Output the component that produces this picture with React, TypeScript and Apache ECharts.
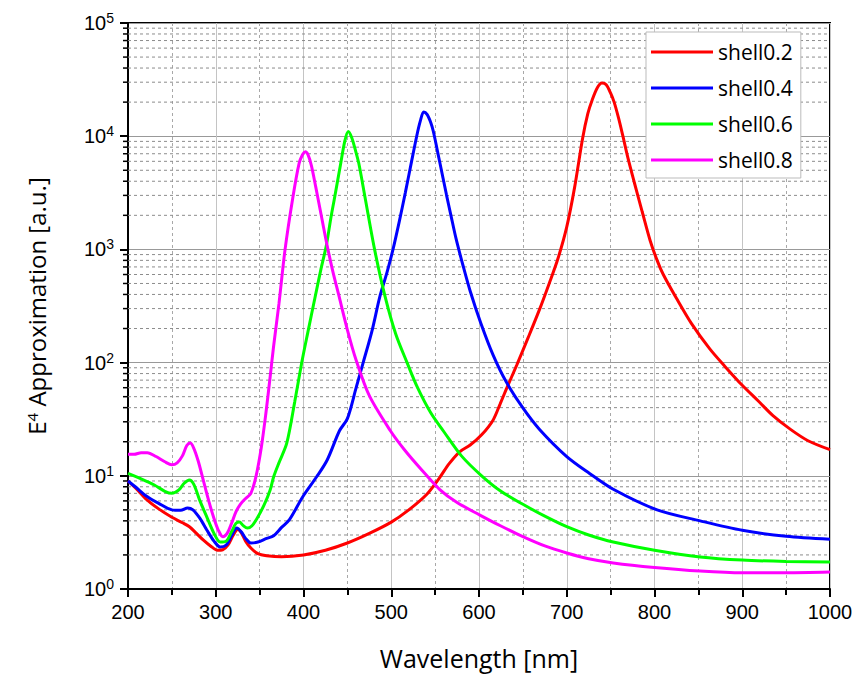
import React, { useEffect, useRef } from "react";
import * as echarts from "echarts";

const seriesNames = ["shell0.2", "shell0.4", "shell0.6", "shell0.8"];
const seriesColors = ["#ff0000", "#0000ff", "#00ff00", "#ff00ff"];

const redX = [200, 210, 220, 235, 250, 262, 270, 278, 286, 294, 302, 308, 314, 320, 325, 329, 334, 340, 348, 358, 375, 400, 425, 450, 475, 500, 520, 540, 555, 566, 578, 590, 603, 616, 624, 631, 643, 656, 669, 680, 690, 700, 709, 718, 724, 729, 735, 740, 745, 750, 754, 759, 764, 770, 777, 786, 795, 803, 810, 825, 842, 863, 880, 900, 918, 935, 955, 975, 1000];
const redY = [9.0, 7.6, 6.3, 5.1, 4.3, 3.85, 3.55, 3.1, 2.7, 2.4, 2.2, 2.22, 2.45, 3.0, 3.35, 3.15, 2.65, 2.3, 2.05, 1.97, 1.93, 2.0, 2.2, 2.55, 3.1, 3.9, 5.0, 6.8, 9.6, 12.8, 16.3, 18.7, 23, 31, 43, 58, 95, 166, 295, 500, 830, 1580, 3550, 9500, 15800, 20900, 26900, 29500, 28500, 24000, 20000, 14500, 10000, 6300, 3900, 2150, 1200, 800, 600, 370, 222, 132, 93, 63, 46, 34, 25.7, 20.4, 17];

const blueX = [200, 210, 220, 235, 250, 260, 268, 274, 282, 290, 298, 305, 312, 318, 324, 329, 334, 340, 348, 358, 366, 375, 384, 399, 415, 427, 441, 450, 460, 468, 478, 487, 495, 502, 509, 516, 523, 529, 533, 537, 541, 545, 548, 555, 563, 568, 574, 582, 590, 602, 616, 631, 650, 669, 700, 726, 753, 803, 852, 900, 950, 1000];
const blueY = [9.0, 7.8, 6.7, 5.7, 5.0, 4.95, 5.2, 5.0, 4.2, 3.3, 2.65, 2.35, 2.45, 2.95, 3.45, 3.2, 2.8, 2.55, 2.6, 2.8, 2.95, 3.5, 4.1, 6.5, 9.8, 13.8, 25, 32, 60, 100, 190, 382, 620, 1000, 1740, 3160, 5900, 10000, 13500, 16400, 15500, 13200, 11000, 6030, 3020, 2000, 1230, 710, 427, 224, 117, 67.6, 39.8, 25.7, 14.8, 10.5, 7.6, 5.0, 4.0, 3.3, 2.92, 2.75];

const greenX = [200, 215, 230, 242, 250, 258, 264, 270, 275, 282, 290, 298, 305, 312, 318, 323, 327, 331, 336, 341, 347, 355, 362, 366, 372, 381, 390, 398, 405, 413, 420, 426, 431, 435, 442, 447, 451, 455, 459, 463, 470, 481, 493, 505, 518, 530, 545, 560, 580, 603, 625, 650, 675, 700, 725, 753, 800, 852, 900, 950, 1000];
const greenY = [10.5, 9.4, 8.3, 7.3, 7.0, 7.5, 8.6, 9.2, 8.4, 6.0, 4.3, 3.1, 2.6, 2.65, 3.2, 3.8, 3.9, 3.65, 3.45, 3.6, 4.2, 5.5, 7.5, 9.8, 13, 19.5, 45, 100, 186, 372, 676, 1080, 1860, 2750, 5500, 9000, 11000, 9700, 7600, 5760, 2920, 1000, 382, 180, 100, 60, 36, 24.5, 15, 10.0, 7.3, 5.6, 4.4, 3.55, 3.0, 2.6, 2.2, 1.92, 1.8, 1.75, 1.73];

const magentaX = [200, 207, 215, 222, 232, 242, 250, 256, 262, 267, 271, 275, 280, 286, 292, 298, 303, 308, 313, 318, 323, 328, 334, 340, 346, 352, 357, 362, 366, 372, 379, 388, 395, 399, 402, 405, 409, 414, 419, 426, 433, 440, 450, 460, 475, 499, 515, 535, 555, 575, 601, 625, 650, 675, 700, 725, 753, 800, 852, 900, 950, 1000];
const magentaY = [15.5, 15.5, 16.0, 16.0, 14.8, 13.3, 12.5, 13.0, 15.0, 18.5, 19.5, 17.5, 13.5, 9.0, 6.0, 4.2, 3.3, 2.9, 3.1, 3.8, 4.8, 5.6, 6.3, 7.0, 10, 18, 35, 75, 141, 330, 1000, 2920, 5760, 6900, 7300, 6900, 5500, 3550, 2240, 1175, 660, 400, 195, 105, 51, 25, 17, 11.2, 7.6, 5.8, 4.5, 3.6, 2.9, 2.4, 2.08, 1.85, 1.7, 1.55, 1.44, 1.39, 1.39, 1.41];

const yMinorTicks = [1, 10, 100, 1000, 10000].flatMap((d) => [2, 3, 4, 5, 6, 7, 8, 9].map((k) => k * d));

const allX = [redX, blueX, greenX, magentaX];
const allY = [redY, blueY, greenY, magentaY];

export default function App() {
  const ref = useRef<HTMLDivElement>(null);
  useEffect(() => {
    if (!ref.current) return;
    const chart = echarts.init(ref.current, undefined, { renderer: "svg" });
    const lineSeries = seriesNames.map((name, i) => ({
      name,
      type: "line",
      data: allX[i].map((x, j) => [x, allY[i][j]]),
      symbol: "none",
      smooth: 0.3,
      z: 3,
      lineStyle: { color: seriesColors[i], width: 3 },
      itemStyle: { color: seriesColors[i] },
    }));
    const option: any = {
      animation: false,
      grid: {
        left: 128,
        right: 29,
        top: 23,
        bottom: 93,
        show: true,
        borderColor: "#000",
        borderWidth: 2,
      },
      legend: {
        data: seriesNames,
        orient: "vertical",
        left: 646,
        top: 32,
        icon: "rect",
        itemWidth: 62,
        itemHeight: 3,
        itemGap: 12,
        padding: [8, 8, 6, 5],
        borderColor: "#bbb",
        borderWidth: 1,
        backgroundColor: "#fff",
        textStyle: { fontFamily: "Open Sans", fontSize: 21, color: "#000", lineHeight: 24 },
      },
      xAxis: {
        type: "value",
        min: 200,
        max: 1000,
        interval: 100,
        axisLine: { show: true, onZero: false, lineStyle: { color: "#000", width: 2 } },
        axisTick: { show: true, length: 8, lineStyle: { color: "#000", width: 2 } },
        minorTick: { show: true, splitNumber: 2, length: 6, lineStyle: { color: "#000", width: 2 } },
        splitLine: { show: true, lineStyle: { color: "#c4c4c4", width: 1 } },
        minorSplitLine: { show: true, lineStyle: { color: "#a8a8a8", width: 1, type: [3, 3] } },
        axisLabel: { fontFamily: "Liberation Sans", fontSize: 20, color: "#000", margin: 13, formatter: (v: number) => String(v) },
        name: "Wavelength [nm]",
        nameLocation: "middle",
        nameGap: 56,
        nameTextStyle: { fontFamily: "Open Sans", fontSize: 25, color: "#000" },
      },
      yAxis: {
        type: "log",
        logBase: 10,
        min: 1,
        max: 100000,
        axisLine: { show: true, onZero: false, lineStyle: { color: "#000", width: 2 } },
        axisTick: { show: true, length: 8, lineStyle: { color: "#000", width: 2 } },
        splitLine: { show: true, lineStyle: { color: "#999", width: 1.2 } },
        axisLabel: {
          margin: 14,
          formatter: (v: number) => `{b|10}{s|${Math.round(Math.log10(v))}}`,
          rich: {
            b: { fontFamily: "Liberation Sans", fontSize: 20, lineHeight: 24, color: "#000" },
            s: { fontFamily: "Liberation Sans", fontSize: 14, lineHeight: 14, verticalAlign: "top", color: "#000" },
          },
        },
        name: "E{s|4} Approximation [a.u.]",
        nameLocation: "middle",
        nameGap: 80,
        nameTextStyle: {
          fontFamily: "Open Sans",
          fontSize: 24,
          color: "#000",
          rich: {
            s: { fontFamily: "Open Sans", fontSize: 15, lineHeight: 15, verticalAlign: "top", color: "#000" },
          },
        },
      },
      series: [
        {
          type: "custom",
          silent: true,
          clip: false,
          z: 1,
          data: yMinorTicks.map((v) => [200, v]),
          encode: { x: 0, y: 1 },
          renderItem: (params: any, api: any) => {
            const v = api.value(1);
            const a = api.coord([200, v]);
            const b = api.coord([1000, v]);
            return {
              type: "group",
              children: [
                { type: "line", shape: { x1: a[0], y1: a[1], x2: b[0], y2: b[1] }, style: { stroke: "#8c8c8c", lineWidth: 1, lineDash: [3, 3] } },
                { type: "line", shape: { x1: a[0] - 5, y1: a[1], x2: a[0], y2: a[1] }, style: { stroke: "#000", lineWidth: 1.5 } },
              ],
            };
          },
        },
        ...lineSeries,
      ],
    };
    chart.setOption(option);
    return () => chart.dispose();
  }, []);
  return <div ref={ref} style={{ position: "fixed", left: 0, top: 0, width: 859, height: 682, background: "#fff" }} />;
}
